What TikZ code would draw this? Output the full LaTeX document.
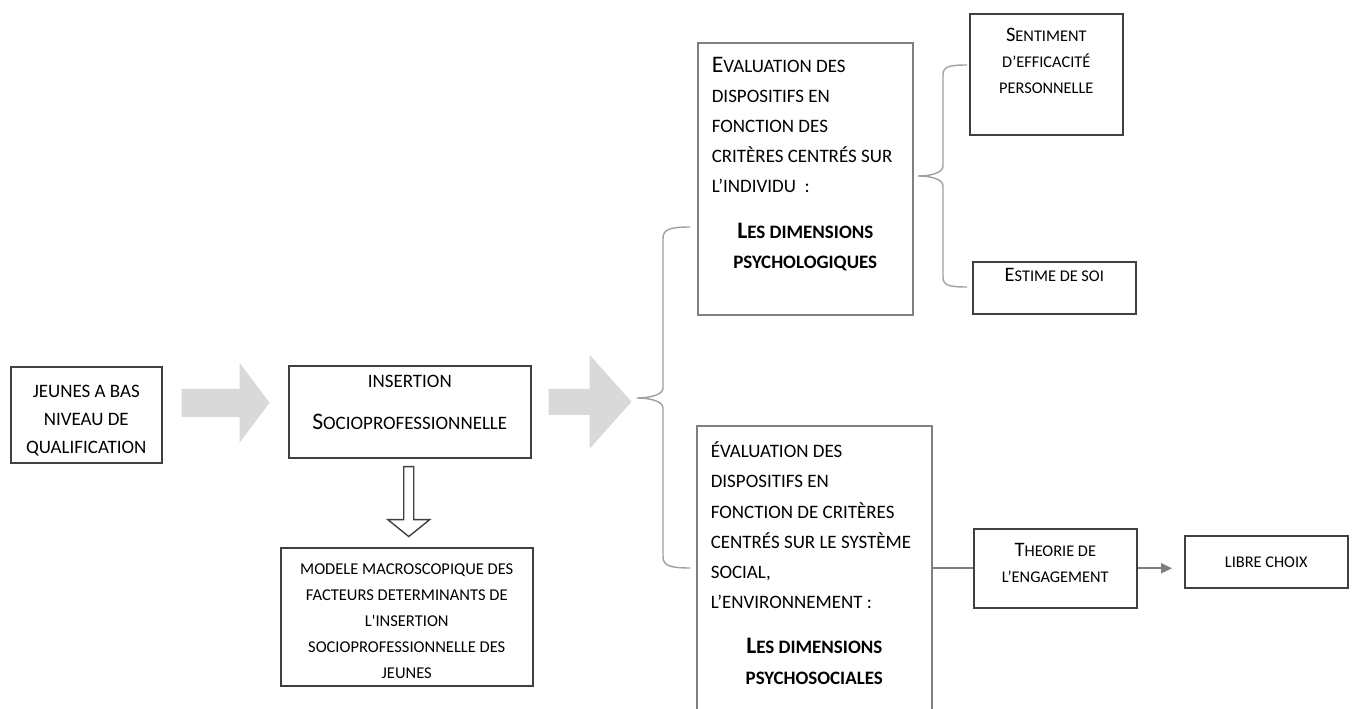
\documentclass[tikz,border=0pt]{standalone}
\usepackage{fontspec}
\setmainfont{Carlito}
\usetikzlibrary{arrows.meta, calc}

\definecolor{boxdark}{HTML}{404040}
\definecolor{boxlight}{HTML}{808080}
\definecolor{bracegray}{HTML}{A0A0A0}
\definecolor{linkgray}{HTML}{7F7F7F}
\definecolor{arrowfill}{HTML}{D9D9D9}

\newcommand{\Ini}[1]{{\fontsize{13.5}{17}\selectfont #1}}
\newcommand{\ini}[1]{{\fontsize{11.7}{15}\selectfont #1}}
\newcommand{\boxtext}[4][t]{\parbox[c][#3][#1]{#2}{#4}}

\tikzset{
    box/.style={draw=boxdark, line width=0.9pt, inner sep=0pt, anchor=north west},
    evalbox/.style={box, draw=boxlight, inner xsep=0.28cm},
    bigtext/.style={font=\fontsize{10.8}{17.2}\selectfont},
    smalltext/.style={font=\fontsize{9.3}{14.8}\selectfont},
    blockarrow/.style={fill=arrowfill},
    hollowarrow/.style={draw=boxdark, fill=white, line width=0.8pt},
    brace/.style={draw=bracegray, line width=0.8pt},
    link/.style={draw=linkgray, line width=1.1pt},
}

\begin{document}
\begin{tikzpicture}[x=0.02cm, y=-0.02cm]
        \useasboundingbox (0,0) rectangle (1355,709);
        \clip (0,0) rectangle (1355,709);

        \node[box, font=\fontsize{10.8}{16}\selectfont] (jeunes) at (10,366) {\boxtext{3.02cm}{1.92cm}{\vspace*{0.36cm}\centering JEUNES A BAS\\NIVEAU DE\\QUALIFICATION}};
        \node[box, bigtext] (insertion) at (288,365) {\boxtext{4.84cm}{1.84cm}{\vspace*{0.18cm}\centering INSERTION\\[7pt]\Ini{S}OCIOPROFESSIONNELLE}};
        \node[box, font=\fontsize{9.4}{14.8}\selectfont] (modele) at (280,547) {\boxtext{5.04cm}{2.76cm}{\vspace*{0.32cm}\centering MODELE MACROSCOPIQUE DES\\FACTEURS DETERMINANTS DE\\L\textquotesingle INSERTION\\SOCIOPROFESSIONNELLE DES\\JEUNES}};

        \node[evalbox, bigtext] (eval1) at (697,42) {\boxtext{3.74cm}{5.44cm}{\vspace*{0.28cm}\raggedright
            \Ini{E}VALUATION DES\\DISPOSITIFS EN\\FONCTION DES\\CRITÈRES CENTRÉS SUR\\L’INDIVIDU~~:\par
            \vspace{0.3cm}{\centering\bfseries \Ini{L}ES DIMENSIONS\\PSYCHOLOGIQUES\par}}};
        \node[evalbox, bigtext] (eval2) at (696,425) {\boxtext{4.14cm}{6cm}{\vspace*{0.32cm}\raggedright
            ÉVALUATION DES\\DISPOSITIFS EN\\FONCTION DE CRITÈRES\\CENTRÉS SUR LE SYSTÈME\\SOCIAL,\\L’ENVIRONNEMENT :\par
            \vspace{0.3cm}{\centering\bfseries \Ini{L}ES DIMENSIONS\\PSYCHOSOCIALES\par}}};

        \node[box, smalltext] (sentiment) at (969,13) {\boxtext{3.06cm}{2.42cm}{\vspace*{0.28cm}\centering \ini{S}ENTIMENT\\D’EFFICACITÉ\\PERSONNELLE}};
        \node[box, smalltext] (estime) at (972,261) {\boxtext{3.26cm}{1.04cm}{\vspace*{0.14cm}\centering \ini{E}STIME DE SOI}};
        \node[box, smalltext] (theorie) at (973,528) {\boxtext{3.26cm}{1.58cm}{\vspace*{0.3cm}\centering \ini{T}HEORIE DE\\L’ENGAGEMENT}};
        \node[box, smalltext] (libre) at (1184,535) {\boxtext[c]{3.26cm}{1.04cm}{\centering LIBRE CHOIX}};

        % block arrows
        \fill[blockarrow] ($(jeunes.east)+(19,-26)$) -- ++(58,0) -- ++(0,-26) -- ++(30,40) -- ++(-30,40) -- ++(0,-26) -- ++(-58,0) -- cycle;
        \fill[blockarrow] ($(insertion.east)+(17,-23)$) -- ++(41,0) -- ++(0,-34) -- ++(42,47) -- ++(-42,47) -- ++(0,-34) -- ++(-41,0) -- cycle;
        \draw[hollowarrow] ($(insertion.south)+(-6,8)$) -- ++(0,53) -- ++(-16,0) -- ++(21,17) -- ++(21,-17) -- ++(-16,0) -- ++(0,-53) -- cycle;

        % braces
        \coordinate (lbtop) at ([shift={(-7,185)}]eval1.north west);
        \coordinate (rbtop) at ([shift={(-2,52)}]sentiment.north west);
        \draw[brace] (lbtop) .. controls +(-22,0) and +(0,-9) .. ++(-27,12) -- ++(0,149)
            .. controls +(0,7) and +(12,0) .. ++(-26,10) coordinate (lbtip)
            .. controls +(12,0) and +(0,-7) .. ++(26,10) -- ++(0,148)
            .. controls +(0,9) and +(-22,0) .. ++(27,12);
        \draw[brace] (rbtop) .. controls +(-19,0) and +(0,-8) .. ++(-24,10) -- ++(0,91)
            .. controls +(0,7) and +(12,0) .. ++(-25,10) coordinate (rbtip)
            .. controls +(12,0) and +(0,-7) .. ++(25,10) -- ++(0,91)
            .. controls +(0,8) and +(-19,0) .. ++(24,10);

        \draw[link] (eval2.east |- theorie.west) -- (theorie.west);
        \draw[link, -{Triangle[length=2.2mm, width=2mm]}, shorten >=0.24cm] (theorie.east) -- (theorie.east -| libre.west);

    \end{tikzpicture}
\end{document}
